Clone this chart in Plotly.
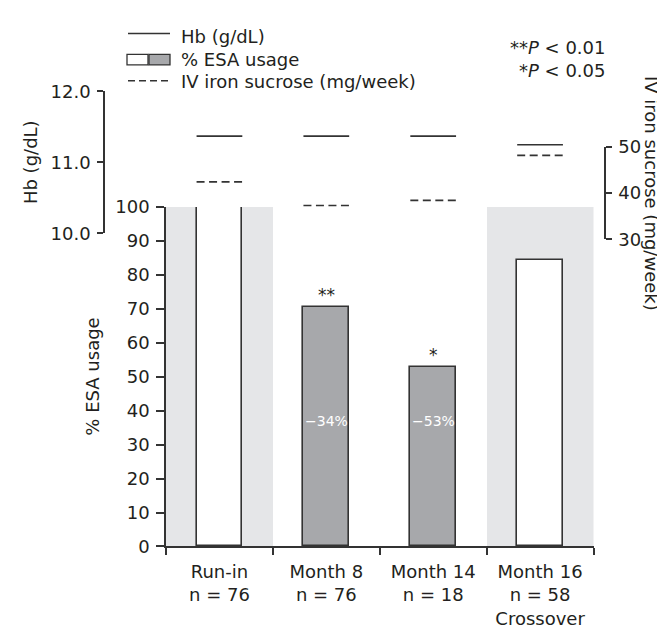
import plotly.graph_objects as go

# ---------------- data ----------------
categories = ["Run-in<br>n = 76", "Month 8<br>n = 76", "Month 14<br>n = 18",
              "Month 16<br>n = 58<br>Crossover"]
esa_usage = [100, 70.6, 52.9, 84.4]          # % ESA usage (bars)
hb_values = [11.37, 11.37, 11.37, 11.25]     # Hb (g/dL)
iron_values = [42.4, 37.3, 38.4, 48.1]       # IV iron sucrose (mg/week)
treatment_phase = [False, True, True, False] # grey bars = treatment, shaded = off
significance = ["", "**", "*", ""]
reduction_labels = ["", "\u221234%", "\u221253%", ""]
esa_ticks = list(range(0, 101, 10))
hb_ticks = [10.0, 11.0, 12.0]
iron_ticks = [30, 40, 50]

# ---------------- layout helpers ----------------
W, H = 665, 629
def px_x(x):
    return x / W
def px_y(y):
    return 1 - y / H

FONT = "DejaVu Sans, Liberation Sans, Arial, sans-serif"
TXT = "#231f20"
LINE = "#333333"
FS = 18
BAR_W = 0.428
REDUCTION_Y = 37

idx = list(range(len(categories)))

fig = go.Figure()

# shaded background for non-treatment phases
shade_x = [i for i in idx if not treatment_phase[i]]
fig.add_trace(go.Bar(x=shade_x, y=[esa_ticks[-1]] * len(shade_x), width=1,
                     marker=dict(color="#e5e6e8", line=dict(width=0)),
                     hoverinfo="skip", showlegend=False))

# ESA bars
fig.add_trace(go.Bar(x=idx, y=esa_usage, width=BAR_W,
                     marker=dict(color=["#a7a8ab" if t else "white" for t in treatment_phase],
                                 line=dict(color=LINE, width=1.6)),
                     showlegend=False))

# Hb and iron segments
def segs(vals):
    xs, ys = [], []
    for i, v in zip(idx, vals):
        xs += [i - BAR_W / 2, i + BAR_W / 2, None]
        ys += [v, v, None]
    return xs, ys

hx, hy = segs(hb_values)
fig.add_trace(go.Scatter(x=hx, y=hy, yaxis="y2", mode="lines",
                         line=dict(color=LINE, width=1.6), showlegend=False))
ix, iy = segs(iron_values)
fig.add_trace(go.Scatter(x=ix, y=iy, yaxis="y3", mode="lines",
                         line=dict(color=LINE, width=1.6, dash="8px,4.5px"),
                         showlegend=False))

axis_common = dict(showgrid=False, zeroline=False, showline=True, linecolor=LINE,
                   linewidth=1.5, ticks="outside", tickcolor=LINE, tickwidth=1.5,
                   tickfont=dict(size=FS, color=TXT, family=FONT))

fig.update_layout(
    width=W, height=H, margin=dict(l=0, r=0, t=0, b=0),
    paper_bgcolor="white", plot_bgcolor="rgba(0,0,0,0)",
    barmode="overlay", bargap=0,
    font=dict(family=FONT, size=FS, color=TXT),
    xaxis=dict(axis_common, domain=[px_x(158), px_x(585.5)], range=[-0.5, len(idx) - 0.5],
               tickvals=idx, ticktext=categories, ticklen=8, tickcolor="rgba(0,0,0,0)",
               minor=dict(tickvals=[i - 0.5 for i in idx] + [idx[-1] + 0.5],
                          ticks="outside", ticklen=7, tickcolor=LINE, tickwidth=1.5),
               anchor="y"),
    yaxis=dict(axis_common, domain=[px_y(545.7), px_y(194.5)], range=[0, 100],
               tickvals=esa_ticks, ticklen=8, ticklabelstandoff=3, anchor="x"),
    yaxis2=dict(axis_common, domain=[px_y(221.7), px_y(75)], range=[hb_ticks[0], hb_ticks[-1]],
                tickvals=hb_ticks, tickformat=".1f", ticklen=6, ticklabelstandoff=3,
                anchor="free", position=px_x(96), side="left"),
    yaxis3=dict(axis_common, domain=[px_y(228), px_y(132)], range=[iron_ticks[0], iron_ticks[-1]],
                tickvals=iron_ticks, ticklen=6, ticklabelstandoff=3, anchor="free",
                position=px_x(597), side="right"),
)

ann = []
# axis titles
ann.append(dict(text="Hb (g/dL)", x=px_x(22), y=px_y(148), textangle=-90))
ann.append(dict(text="% ESA usage", x=px_x(85), y=px_y(370), textangle=-90))
ann.append(dict(text="IV iron sucrose (mg/week)", x=px_x(643), y=px_y(180), textangle=90))
# legend texts
ann.append(dict(text="Hb (g/dL)", x=px_x(171), y=px_y(18), xanchor="left"))
ann.append(dict(text="% ESA usage", x=px_x(171), y=px_y(42), xanchor="left"))
ann.append(dict(text="IV iron sucrose (mg/week)", x=px_x(171), y=px_y(65), xanchor="left"))
# p-values
ann.append(dict(text="**<i>P</i> &lt; 0.01", x=px_x(599), y=px_y(30), xanchor="right"))
ann.append(dict(text="*<i>P</i> &lt; 0.05", x=px_x(599), y=px_y(53), xanchor="right"))
for a in ann:
    a.update(xref="paper", yref="paper", showarrow=False,
             font=dict(size=FS, color=TXT, family=FONT))
    a.setdefault("xanchor", "center")
    a.setdefault("yanchor", "middle")

for i in idx:
    if significance[i]:
        ann.append(dict(text=significance[i], x=i, y=esa_usage[i], xref="x", yref="y",
                        xanchor="center", yanchor="bottom", showarrow=False,
                        font=dict(size=17, color=TXT, family=FONT)))
    if reduction_labels[i]:
        ann.append(dict(text=reduction_labels[i], x=i, y=REDUCTION_Y, xref="x", yref="y",
                        xanchor="center", yanchor="middle", showarrow=False,
                        font=dict(size=14, color="white", family=FONT)))
fig.update_layout(annotations=ann)

# legend symbols
shapes = [
    dict(type="line", x0=px_x(120), x1=px_x(162), y0=px_y(15), y1=px_y(15),
         line=dict(color=LINE, width=1.5)),
    dict(type="rect", x0=px_x(119), x1=px_x(140), y0=px_y(47.5), y1=px_y(36.5),
         fillcolor="white", line=dict(color=LINE, width=1.3)),
    dict(type="rect", x0=px_x(141), x1=px_x(162), y0=px_y(47.5), y1=px_y(36.5),
         fillcolor="#a7a8ab", line=dict(color=LINE, width=1.3)),
    dict(type="line", x0=px_x(120), x1=px_x(162), y0=px_y(64), y1=px_y(64),
         line=dict(color=LINE, width=1.5, dash="7px,4px")),
]
for s in shapes:
    s.update(xref="paper", yref="paper")
fig.update_layout(shapes=shapes)

fig.write_html("out.html")
